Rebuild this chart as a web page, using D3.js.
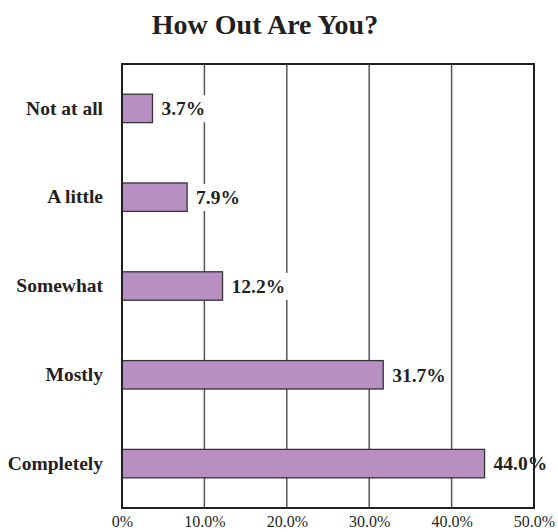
<!DOCTYPE html>
<html>
<head>
<meta charset="utf-8">
<script src="https://cdn.jsdelivr.net/npm/d3@7"></script>
<style>
  html, body { margin: 0; padding: 0; background: #fff; }
  svg { display: block; }
</style>
</head>
<body>
<svg id="chart" width="558" height="532"></svg>
<script>
// Survey responses: share of respondents at each level of being out
const categories = ["Not at all", "A little", "Somewhat", "Mostly", "Completely"];
const values = [3.7, 7.9, 12.2, 31.7, 44.0];
const tickValues = [0, 10, 20, 30, 40, 50];
const tickLabels = ["0%", "10.0%", "20.0%", "30.0%", "40.0%", "50.0%"];
const title = "How Out Are You?";

const font = "'Liberation Serif', 'Times New Roman', serif";
const svg = d3.select("#chart");

const plotLeft = 122, plotRight = 534, plotTop = 64, plotBottom = 508;

const x = d3.scaleLinear().domain([0, 50]).range([plotLeft, plotRight]);
const y = d3.scaleBand().domain(categories).range([plotTop, plotBottom]).paddingInner(0.68).paddingOuter(0.34);

// Title
svg.append("text")
  .attr("x", 265).attr("y", 34)
  .attr("text-anchor", "middle")
  .attr("font-family", font).attr("font-weight", "bold").attr("font-size", 28)
  .attr("fill", "#231f20")
  .text(title);

// Vertical gridlines
svg.append("g")
  .selectAll("line")
  .data(tickValues.slice(1, -1))
  .join("line")
  .attr("x1", d => x(d)).attr("x2", d => x(d))
  .attr("y1", plotTop).attr("y2", plotBottom)
  .attr("stroke", "#555").attr("stroke-width", 1.5);

// Bars
svg.append("g")
  .selectAll("rect")
  .data(categories)
  .join("rect")
  .attr("x", x(0))
  .attr("y", d => y(d))
  .attr("width", (d, i) => x(values[i]) - x(0))
  .attr("height", y.bandwidth())
  .attr("fill", "#b88fc2")
  .attr("stroke", "#333").attr("stroke-width", 1.3);

// Value labels on a white backing that breaks the gridlines
const vl = svg.append("g")
  .selectAll("g")
  .data(categories)
  .join("g")
  .attr("transform", (d, i) => `translate(${x(values[i]) + 9},${y(d) + y.bandwidth() / 2})`);

vl.append("text")
  .attr("dy", "0.35em")
  .attr("font-family", font).attr("font-weight", "bold").attr("font-size", 19.5)
  .attr("fill", "#231f20")
  .text((d, i) => values[i].toFixed(1) + "%");

vl.each(function () {
  const g = d3.select(this);
  const bb = g.select("text").node().getBBox();
  g.insert("rect", "text")
    .attr("x", bb.x - 3).attr("y", bb.y - 3)
    .attr("width", bb.width + 6).attr("height", bb.height + 6)
    .attr("fill", "#fff");
});

// Plot frame
svg.append("rect")
  .attr("x", plotLeft).attr("y", plotTop)
  .attr("width", plotRight - plotLeft).attr("height", plotBottom - plotTop)
  .attr("fill", "none")
  .attr("stroke", "#231f20").attr("stroke-width", 2);

// Category axis
const yAxis = svg.append("g")
  .attr("transform", `translate(${plotLeft - 19},0)`)
  .call(d3.axisLeft(y).tickSize(0).tickPadding(0));
yAxis.select(".domain").remove();
yAxis.selectAll("text")
  .attr("font-family", font).attr("font-weight", "bold").attr("font-size", 19.5)
  .attr("fill", "#231f20");

// Percentage axis
const xAxis = svg.append("g")
  .attr("transform", `translate(0,${plotBottom})`)
  .call(d3.axisBottom(x).tickValues(tickValues).tickFormat((d, i) => tickLabels[i]).tickSize(0).tickPadding(8));
xAxis.select(".domain").remove();
xAxis.selectAll("text")
  .attr("font-family", font).attr("font-size", 16)
  .attr("fill", "#231f20");
</script>
</body>
</html>
